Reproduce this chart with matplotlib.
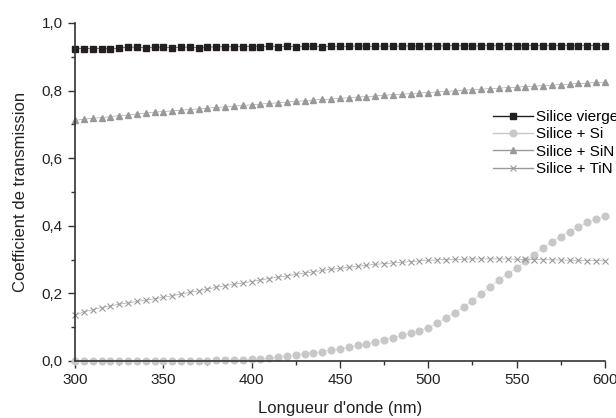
import numpy as np
import matplotlib
matplotlib.use("Agg")
import matplotlib.pyplot as plt
from matplotlib.ticker import MultipleLocator, FuncFormatter

plt.rcParams["font.family"] = ["Liberation Sans", "DejaVu Sans"]

wavelength = np.arange(300, 601, 5)

vierge = [0.924, 0.924, 0.924, 0.924, 0.924, 0.925, 0.929, 0.928, 0.927, 0.929,
          0.928, 0.926, 0.928, 0.929, 0.927, 0.929, 0.929, 0.930, 0.929, 0.930,
          0.930, 0.930, 0.931, 0.930, 0.931, 0.930, 0.931, 0.931, 0.930, 0.931,
          0.931, 0.931, 0.932, 0.931, 0.931, 0.932, 0.931, 0.932, 0.932, 0.931,
          0.932, 0.932, 0.932, 0.933, 0.932, 0.932, 0.932, 0.933, 0.932, 0.933,
          0.932, 0.933, 0.933, 0.932, 0.933, 0.933, 0.933, 0.932, 0.933, 0.933,
          0.933]

si = [0.0, 0.0, 0.0, 0.0, 0.0, 0.0, 0.0, 0.0, 0.0, 0.0,
      0.0, 0.0, 0.0, 0.001, 0.001, 0.001, 0.002, 0.002, 0.003, 0.004,
      0.005, 0.007, 0.009, 0.011, 0.014, 0.018, 0.021, 0.024, 0.028, 0.032,
      0.036, 0.041, 0.046, 0.051, 0.056, 0.062, 0.069, 0.076, 0.083, 0.090,
      0.098, 0.112, 0.127, 0.143, 0.160, 0.178, 0.198, 0.220, 0.240, 0.258,
      0.275, 0.295, 0.315, 0.335, 0.352, 0.368, 0.383, 0.397, 0.410, 0.420,
      0.428]

sin = [0.712, 0.715, 0.718, 0.720, 0.723, 0.726, 0.728, 0.731, 0.733, 0.736,
       0.738, 0.740, 0.742, 0.744, 0.746, 0.748, 0.750, 0.752, 0.754, 0.756,
       0.758, 0.760, 0.762, 0.764, 0.766, 0.768, 0.770, 0.772, 0.774, 0.775,
       0.777, 0.779, 0.781, 0.782, 0.784, 0.786, 0.788, 0.789, 0.791, 0.793,
       0.794, 0.796, 0.798, 0.799, 0.801, 0.803, 0.804, 0.806, 0.807, 0.809,
       0.810, 0.812, 0.813, 0.815, 0.816, 0.818, 0.819, 0.821, 0.822, 0.824,
       0.825]

tin = [0.136, 0.145, 0.152, 0.158, 0.163, 0.168, 0.172, 0.176, 0.180, 0.184,
       0.188, 0.193, 0.198, 0.203, 0.208, 0.213, 0.218, 0.223, 0.227, 0.231,
       0.235, 0.240, 0.244, 0.248, 0.252, 0.256, 0.260, 0.264, 0.268, 0.271,
       0.274, 0.277, 0.280, 0.283, 0.286, 0.288, 0.290, 0.292, 0.294, 0.296,
       0.298, 0.299, 0.300, 0.301, 0.301, 0.302, 0.302, 0.302, 0.302, 0.302,
       0.301, 0.301, 0.300, 0.300, 0.299, 0.299, 0.298, 0.298, 0.297, 0.297,
       0.296]

fig = plt.figure(figsize=(6.16, 4.18), dpi=100)
ax = fig.add_axes([0.1218, 0.1364, 0.8602, 0.8086])

ax.plot(wavelength, vierge, "-s", color="#231f20", ms=4.5, lw=0.4,
        label="Silice vierge", clip_on=False)
ax.plot(wavelength, si, "-o", color="#c8c8c8", ms=4.8, lw=0.4,
        label="Silice + Si", clip_on=False)
ax.plot(wavelength, sin, "-^", color="#999999", ms=5.0, lw=0.4,
        label="Silice + SiN", clip_on=False)
ax.plot(wavelength, tin, "-x", color="#999999", ms=4.5, lw=0.4, mew=0.8,
        label="Silice + TiN", clip_on=False)

ax.set_xlim(300, 600)
ax.set_ylim(0, 1.0)
ax.xaxis.set_major_locator(MultipleLocator(50))
ax.xaxis.set_minor_locator(MultipleLocator(25))
ax.yaxis.set_major_locator(MultipleLocator(0.2))
ax.yaxis.set_minor_locator(MultipleLocator(0.1))
ax.yaxis.set_major_formatter(FuncFormatter(lambda v, p: f"{v:.1f}".replace(".", ",")))

for side in ["top", "right"]:
    ax.spines[side].set_visible(False)
for side in ["left", "bottom"]:
    ax.spines[side].set_color("#333333")
    ax.spines[side].set_linewidth(1.2)

ax.tick_params(which="major", direction="out", length=5, width=1, color="#333333",
               labelsize=11, labelcolor="#222222", pad=4)
ax.tick_params(which="minor", direction="out", length=3, width=1, color="#333333")

ax.set_xlabel("Longueur d'onde (nm)", fontsize=12, color="#222222", labelpad=10)
ax.set_ylabel("Coefficient de transmission", fontsize=12, color="#222222", labelpad=10)

leg = ax.legend(loc="upper left", bbox_to_anchor=(0.800, 0.737),
                bbox_transform=fig.transFigure, frameon=False,
                fontsize=11, handlelength=2.6, handletextpad=0.25, labelspacing=0.22,
                borderpad=0, borderaxespad=0)
for h in leg.get_lines():
    h.set_linewidth(1.0)

fig.savefig("out.png", dpi=100)
